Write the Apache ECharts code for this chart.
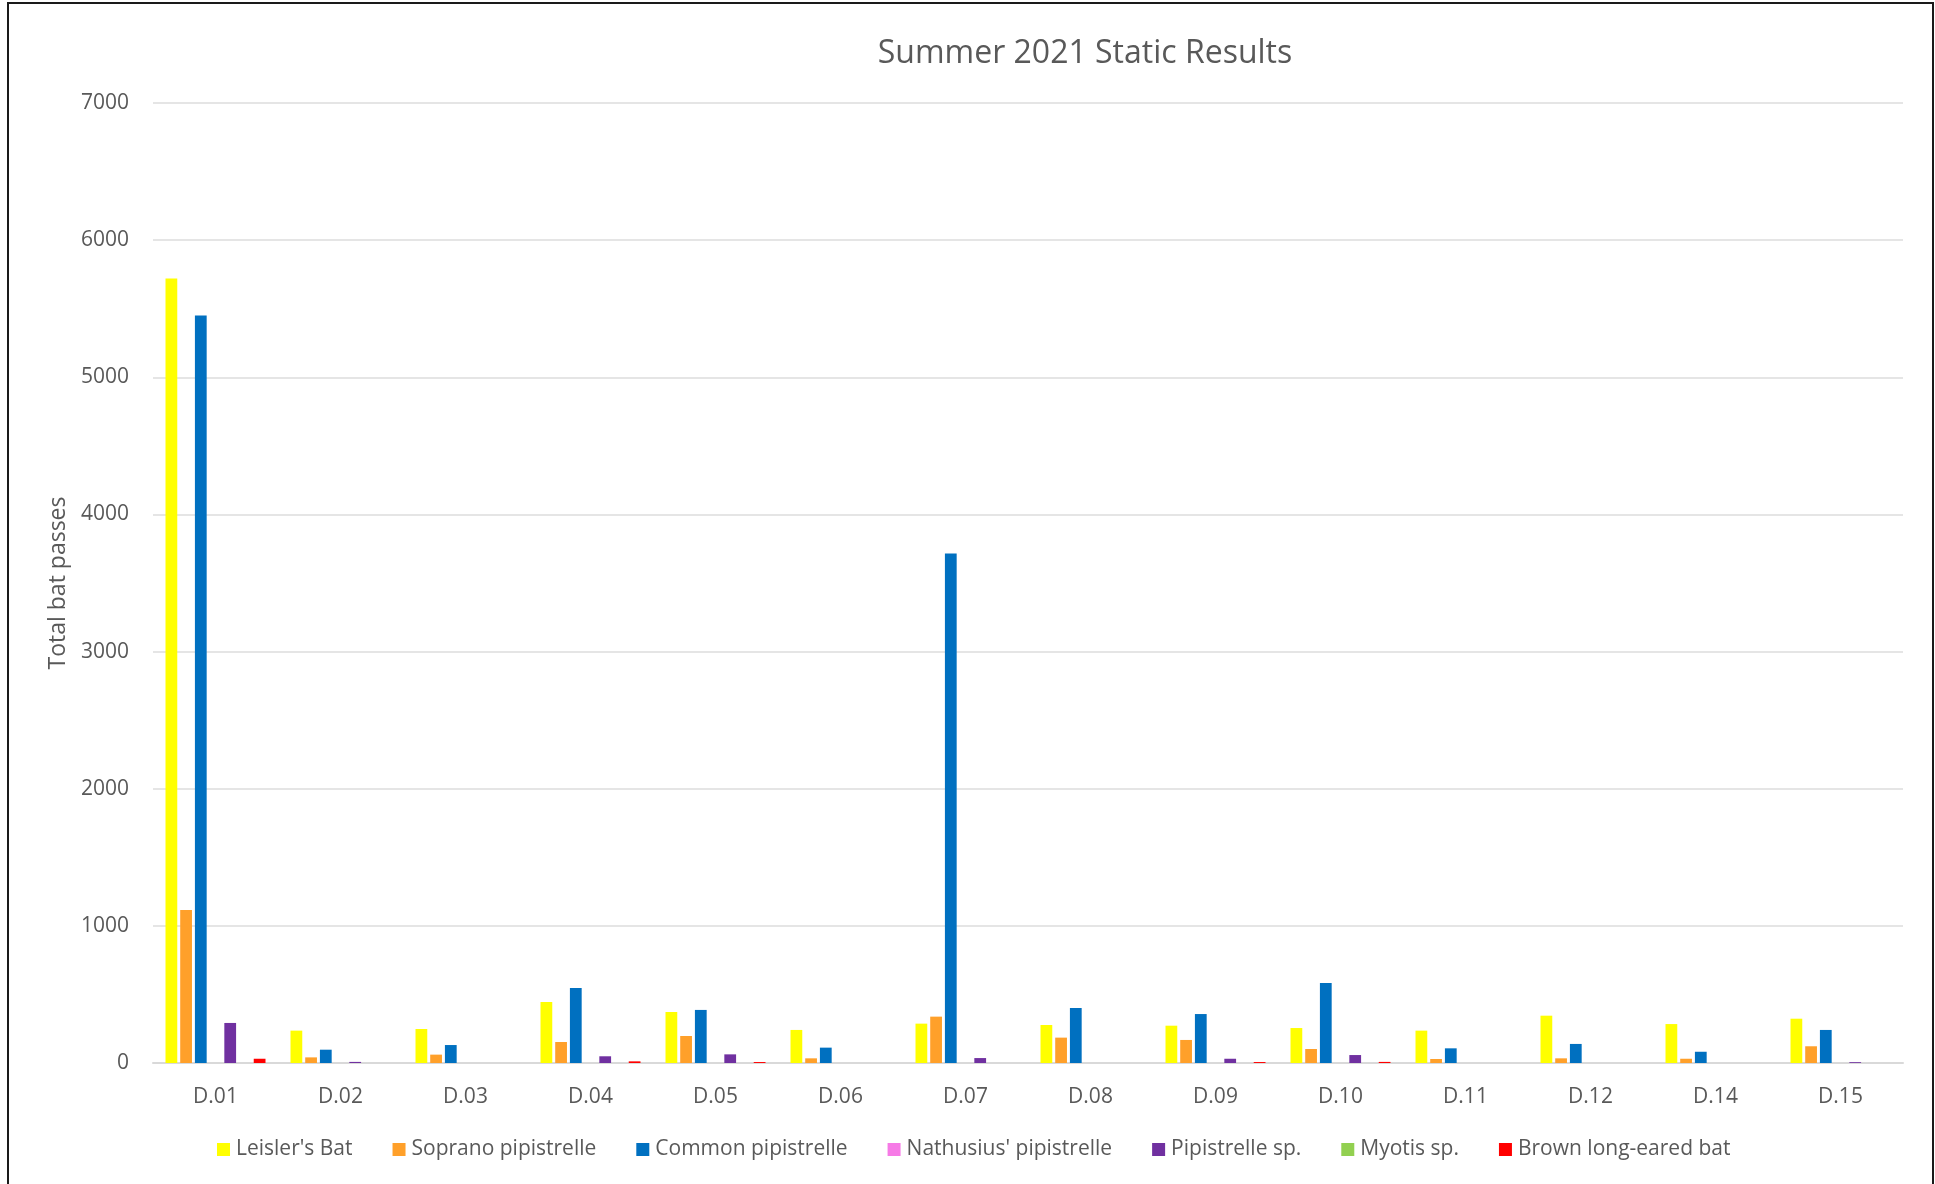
<!DOCTYPE html>
<html>
<head>
<meta charset="utf-8">
<title>Summer 2021 Static Results</title>
<script src="https://cdn.jsdelivr.net/npm/echarts@6/dist/echarts.min.js"></script>
<style>
  html, body { margin: 0; padding: 0; background: #ffffff; }
  #chart { width: 1935px; height: 1184px; }
</style>
</head>
<body>
<div id="chart"></div>
<script>
// Survey sites (no D.13 deployment)
const sites = ['D.01', 'D.02', 'D.03', 'D.04', 'D.05', 'D.06', 'D.07', 'D.08', 'D.09', 'D.10', 'D.11', 'D.12', 'D.14', 'D.15'];

// Total bat passes per species at each site
const leislersBat        = [5720, 236, 248, 445, 372, 241, 287, 277, 272, 255, 236, 345, 284, 323];
const sopranoPipistrelle = [1115, 41, 61, 153, 197, 34, 338, 185, 168, 102, 29, 34, 31, 122];
const commonPipistrelle  = [5450, 97, 131, 547, 387, 112, 3715, 401, 357, 584, 107, 139, 82, 241];
const nathusiusPipistrelle = [0, 0, 0, 0, 0, 0, 0, 0, 0, 0, 0, 0, 0, 0];
const pipistrelleSp      = [292, 8, 0, 49, 63, 0, 36, 0, 31, 58, 0, 0, 0, 6];
const myotisSp           = [0, 0, 0, 0, 0, 0, 0, 0, 0, 0, 0, 0, 0, 0];
const brownLongEared     = [31, 0, 0, 12, 7, 0, 0, 0, 7, 8, 0, 0, 0, 0];

const yTicks = [0, 1000, 2000, 3000, 4000, 5000, 6000, 7000];

const speciesSeries = [
  { name: "Leisler's Bat", data: leislersBat, color: '#FFFF00' },
  { name: 'Soprano pipistrelle', data: sopranoPipistrelle, color: '#FFA02A' },
  { name: 'Common pipistrelle', data: commonPipistrelle, color: '#0070C0' },
  { name: "Nathusius' pipistrelle", data: nathusiusPipistrelle, color: '#F67AE6' },
  { name: 'Pipistrelle sp.', data: pipistrelleSp, color: '#7030A0' },
  { name: 'Myotis sp.', data: myotisSp, color: '#92D050' },
  { name: 'Brown long-eared bat', data: brownLongEared, color: '#FF0000' }
];

const textColor = '#595959';
const fontFamily = '"Open Sans", "Noto Sans", sans-serif';

const chart = echarts.init(document.getElementById('chart'), null, { renderer: 'canvas' });

chart.setOption({
  backgroundColor: '#ffffff',
  animation: false,
  textStyle: { fontFamily: fontFamily, color: textColor },
  title: {
    text: 'Summer 2021 Static Results',
    left: 1080,
    top: 33,
    textAlign: 'center',
    textStyle: { fontFamily: fontFamily, fontSize: 32, fontWeight: 'normal', color: textColor }
  },
  legend: {
    left: 212,
    top: 1134,
    itemWidth: 13,
    itemHeight: 13,
    itemGap: 40,
    icon: 'rect',
    textStyle: { fontFamily: fontFamily, fontSize: 21, color: textColor, padding: [0, 0, 0, 1] },
    data: speciesSeries.map(s => s.name)
  },
  grid: { left: 153, right: 32, top: 103, bottom: 121, containLabel: false },
  xAxis: {
    type: 'category',
    data: sites,
    axisLine: { show: true, lineStyle: { color: '#D9D9D9', width: 2 } },
    axisTick: { show: false },
    axisLabel: { fontFamily: fontFamily, fontSize: 21, color: textColor, margin: 24 }
  },
  yAxis: {
    type: 'value',
    min: yTicks[0],
    max: yTicks[yTicks.length - 1],
    interval: 1000,
    name: 'Total bat passes',
    nameLocation: 'middle',
    nameRotate: 90,
    nameGap: 82,
    nameTextStyle: { fontFamily: fontFamily, fontSize: 23, color: textColor },
    axisLine: { show: false },
    axisTick: { show: false },
    axisLabel: {
      fontFamily: fontFamily, fontSize: 21, color: textColor, margin: 24,
      formatter: v => String(v)
    },
    splitLine: { show: true, lineStyle: { color: '#DCDCDC', width: 1.5 } }
  },
  series: speciesSeries.map(s => ({
    name: s.name,
    type: 'bar',
    data: s.data,
    barGap: '25%',
    barCategoryGap: '20%',
    itemStyle: { color: s.color },
    emphasis: { disabled: true }
  })),
  graphic: [{
    type: 'rect',
    shape: { x: 8, y: 3, width: 1925, height: 1200 },
    style: { fill: 'none', stroke: '#1a1a1a', lineWidth: 2 },
    silent: true
  }]
});
</script>
</body>
</html>
